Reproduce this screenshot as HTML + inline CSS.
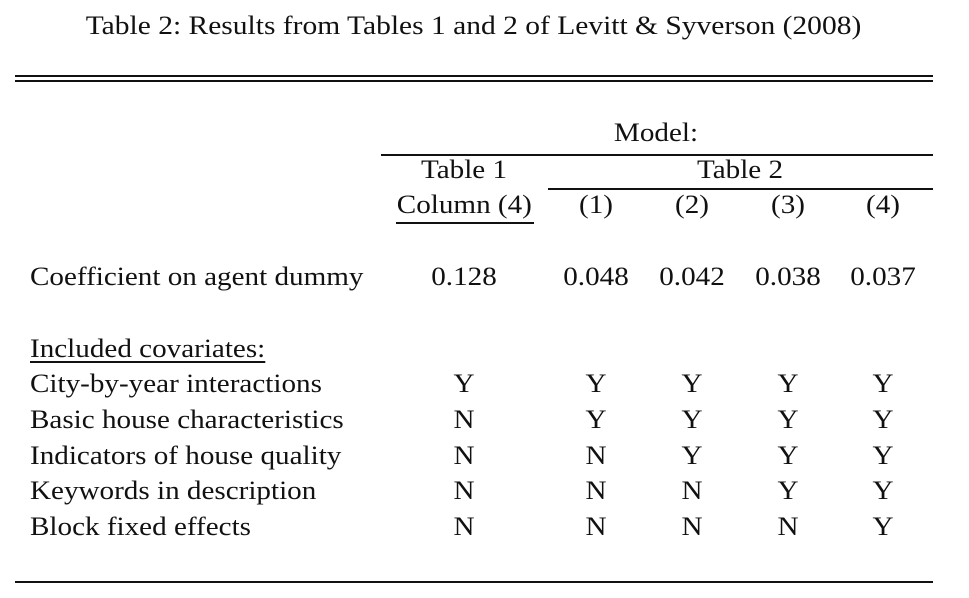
<!DOCTYPE html>
<html><head><meta charset="utf-8"><style>
body{margin:0;width:969px;height:598px;background:#fff;position:relative;overflow:hidden;font-family:"Liberation Serif",serif;font-size:26px;color:#111}
.t{position:absolute;line-height:30px;white-space:nowrap;transform:scaleX(1.12);transform-origin:left center}
.c{position:absolute;line-height:30px;width:120px;text-align:center;white-space:nowrap;transform:scaleX(1.12);transform-origin:center center}
.h{position:absolute;background:#111;height:1.5px}
</style></head><body>
<div class="c" style="left:-11px;width:969px;top:11px;transform:scaleX(1.135)">Table 2: Results from Tables 1 and 2 of Levitt &amp; Syverson (2008)</div>
<div class="h" style="left:15px;width:918px;top:75px"></div>
<div class="h" style="left:15px;width:918px;top:80px"></div>
<div class="c" style="left:596px;top:118px">Model:</div>
<div class="h" style="left:381px;width:552px;top:154px"></div>
<div class="c" style="left:404px;top:155px">Table 1</div>
<div class="c" style="left:680px;top:155px">Table 2</div>
<div class="h" style="left:548px;width:385px;top:188px"></div>
<div class="c" style="left:404px;top:190px">Column (4)</div>
<div class="h" style="left:396px;width:138px;top:222px"></div>
<div class="c" style="left:536px;top:190px">(1)</div>
<div class="c" style="left:632px;top:190px">(2)</div>
<div class="c" style="left:728px;top:190px">(3)</div>
<div class="c" style="left:823px;top:190px">(4)</div>
<div class="t" style="left:30px;top:262px">Coefficient on agent dummy</div>
<div class="c" style="left:404px;top:262px">0.128</div>
<div class="c" style="left:536px;top:262px">0.048</div>
<div class="c" style="left:632px;top:262px">0.042</div>
<div class="c" style="left:728px;top:262px">0.038</div>
<div class="c" style="left:823px;top:262px">0.037</div>
<div class="t" style="left:30px;top:334px;text-decoration:underline;text-underline-offset:4px">Included covariates:</div>
<div class="t" style="left:30px;top:369px">City-by-year interactions</div>
<div class="t" style="left:30px;top:405px">Basic house characteristics</div>
<div class="t" style="left:30px;top:441px">Indicators of house quality</div>
<div class="t" style="left:30px;top:476px">Keywords in description</div>
<div class="t" style="left:30px;top:512px">Block fixed effects</div>
<div class="c" style="left:404px;top:369px">Y</div><div class="c" style="left:536px;top:369px">Y</div><div class="c" style="left:632px;top:369px">Y</div><div class="c" style="left:728px;top:369px">Y</div><div class="c" style="left:823px;top:369px">Y</div>
<div class="c" style="left:404px;top:405px">N</div><div class="c" style="left:536px;top:405px">Y</div><div class="c" style="left:632px;top:405px">Y</div><div class="c" style="left:728px;top:405px">Y</div><div class="c" style="left:823px;top:405px">Y</div>
<div class="c" style="left:404px;top:441px">N</div><div class="c" style="left:536px;top:441px">N</div><div class="c" style="left:632px;top:441px">Y</div><div class="c" style="left:728px;top:441px">Y</div><div class="c" style="left:823px;top:441px">Y</div>
<div class="c" style="left:404px;top:476px">N</div><div class="c" style="left:536px;top:476px">N</div><div class="c" style="left:632px;top:476px">N</div><div class="c" style="left:728px;top:476px">Y</div><div class="c" style="left:823px;top:476px">Y</div>
<div class="c" style="left:404px;top:512px">N</div><div class="c" style="left:536px;top:512px">N</div><div class="c" style="left:632px;top:512px">N</div><div class="c" style="left:728px;top:512px">N</div><div class="c" style="left:823px;top:512px">Y</div>
<div class="h" style="left:15px;width:918px;top:581px"></div>
</body></html>
